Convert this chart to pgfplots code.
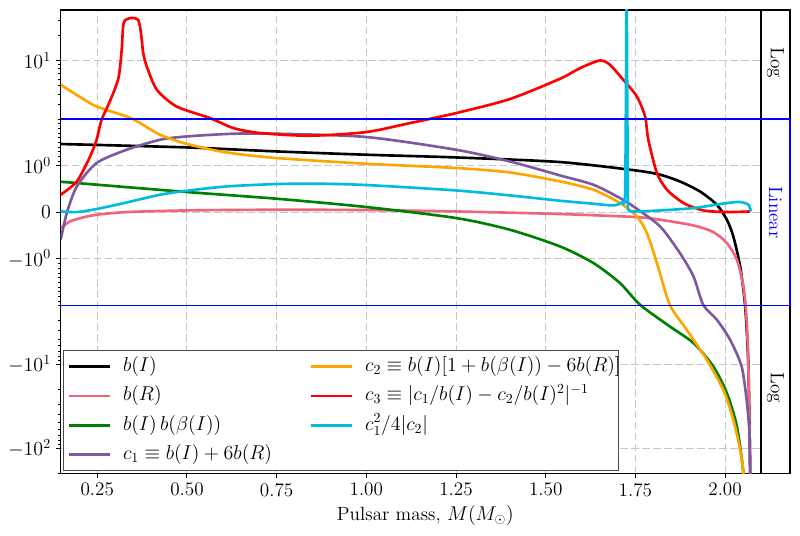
\documentclass[border=0pt]{standalone}
\usepackage{pgfplots}
\pgfplotsset{compat=1.18}
\definecolor{cBR}{RGB}{240,100,125}
\definecolor{cGreen}{RGB}{0,128,0}
\definecolor{cPurple}{RGB}{125,90,160}
\definecolor{cOrange}{RGB}{255,165,0}
\definecolor{cCyan}{RGB}{0,188,222}
\definecolor{cBlue}{RGB}{0,0,255}
\newcommand{\fs}{\fontsize{13.8}{16}\selectfont}
\begin{document}
\begin{tikzpicture}
\begin{axis}[
  scale only axis, width=525.1pt, height=333.6pt,
  xmin=0.148, xmax=2.181, ymin=-3.1111, ymax=2.4121,
  clip mode=individual,
  declare function={symlog(\v)=(abs(\v)<=2) ? 0.555556*\v : ((\v>0) ? 1 : -1)*(1.111111+ln(max(abs(\v),2)/2)/ln(10));},
  xtick={0.25,0.5,0.75,1.0,1.25,1.5,1.75,2.0},
  xticklabels={0.25,0.50,0.75,1.00,1.25,1.50,1.75,2.00},
  ytick={-2.8101,-1.8101,-0.5556,0,0.5556,1.8101},
  yticklabels={$-10^{2}$,$-10^{1}$,$-10^{0}$,$0$,$10^{0}$,$10^{1}$},
  minor ytick={0.6111,0.6667,0.7222,0.7778,0.8333,0.8889,0.9444,1.0,1.0556,1.1111,1.2872,1.4121,1.5090,1.5882,1.6552,1.7132,1.7643,2.1111,2.2872,
   -0.6111,-0.6667,-0.7222,-0.7778,-0.8333,-0.8889,-0.9444,-1.0,-1.0556,-1.1111,-1.2872,-1.4121,-1.5090,-1.5882,-1.6552,-1.7132,-1.7643,-2.1111,-2.2872,-2.4121,-2.5090,-2.5882,-2.6552,-2.7132,-2.7643,-3.1111},
  xtick pos=bottom, ytick pos=left,
  tick align=outside,
  major tick length=3.5pt, minor tick length=2pt,
  every tick/.style={black, line width=0.7pt},
  minor tick style={line width=0.5pt},
  axis line style={line width=0.8pt, black},
  grid=major,
  grid style={black!22, line width=0.7pt, dash pattern=on 5.5pt off 2.4pt},
  tick label style={font=\fs},
  label style={font=\fs},
  xlabel={Pulsar mass, $M(M_\odot)$},
  legend style={at={(0.003,0.005)}, anchor=south west, draw=black!70, line width=0.6pt,
    fill=white, inner xsep=3pt, inner ysep=1pt, column sep=0pt,
    font=\fs,
    nodes={inner sep=0pt, text height=14.05pt, text depth=7.05pt}},
  legend cell align=left,
  legend columns=2,
  legend image code/.code={\draw[#1] (0pt,0pt) -- (29.5pt,0pt);},
  every axis plot/.append style={line width=1.9pt, smooth, tension=0.45},
]
% b(I)
\addplot[black, forget plot] table[x index=0, y expr={symlog(\thisrowno{1})}] {
0.148 1.466
0.5 1.393
0.75 1.307
1.0 1.236
1.25 1.178
1.54 1.079
1.751 0.899
1.819 0.807
1.874 0.663
1.93 0.448
1.977 0.163
2.005 -0.159
2.023 -0.517
2.042 -1.161
2.056 -2.05
2.065 -10.6
2.070 -197
2.071 -400
};
% b(R)
\addplot[cBR, forget plot] table[x index=0, y expr={symlog(\thisrowno{1})}] {
0.148 -0.337
0.174 -0.195
0.210 -0.110
0.248 -0.052
0.332 0.006
0.5 0.041
0.75 0.056
1.0 0.049
1.25 0.019
1.54 -0.036
1.751 -0.101
1.819 -0.159
1.912 -0.281
1.967 -0.423
2.005 -0.659
2.033 -1.017
2.051 -1.588
2.060 -2.95
2.065 -10.6
2.070 -197
2.071 -400
};
% b(I) b(beta(I))
\addplot[cGreen, forget plot] table[x index=0, y expr={symlog(\thisrowno{1})}] {
0.148 0.657
0.5 0.436
0.75 0.292
1.0 0.114
1.25 -0.122
1.40 -0.373
1.54 -0.732
1.633 -1.088
1.707 -1.517
1.763 -1.983
1.846 -3.55
1.912 -5.60
1.967 -10.6
2.005 -22.1
2.033 -55.2
2.051 -197
2.053 -400
};
% c1
\addplot[cPurple, forget plot] table[x index=0, y expr={symlog(\thisrowno{1})}] {
0.148 -0.588
0.165 -0.015
0.193 0.556
0.248 1.058
0.332 1.343
0.425 1.558
0.5 1.629
0.629 1.687
0.75 1.687
1.0 1.616
1.25 1.343
1.40 1.092
1.54 0.792
1.633 0.592
1.707 0.307
1.751 0.092
1.819 -0.303
1.874 -0.873
1.912 -1.376
1.939 -1.983
1.977 -2.95
2.014 -5.11
2.046 -10.6
2.060 -26.4
2.068 -66
2.070 -197
2.071 -400
};
% c2
\addplot[cOrange, forget plot] table[x index=0, y expr={symlog(\thisrowno{1})}] {
0.148 5.14
0.202 3.67
0.248 2.83
0.332 2.15
0.369 1.916
0.425 1.665
0.5 1.466
0.611 1.285
0.75 1.165
1.0 1.043
1.25 0.951
1.40 0.856
1.54 0.663
1.633 0.485
1.707 0.200
1.754 -0.088
1.782 -0.444
1.810 -1.088
1.846 -1.983
1.893 -3.89
1.949 -8.84
1.995 -20.2
2.023 -45.8
2.042 -105
2.051 -197
2.053 -400
};
% c3
\addplot[red, forget plot] table[x index=0, y expr={symlog(\thisrowno{1})}] {
0.148 0.378
0.193 0.663
0.230 1.200
0.248 1.558
0.262 1.987
0.285 3.25
0.309 6.18
0.318 13.4
0.322 25.5
0.327 30.0
0.341 32.0
0.355 32.0
0.364 30.5
0.369 25.5
0.374 17.7
0.378 12.3
0.388 8.48
0.416 4.48
0.471 2.83
0.564 2.06
0.629 1.809
0.704 1.702
0.843 1.644
1.0 1.723
1.122 1.916
1.25 2.36
1.40 3.47
1.54 6.06
1.596 8.12
1.651 10.0
1.679 8.9
1.716 5.9
1.754 3.73
1.777 2.15
1.786 1.558
1.810 0.843
1.838 0.485
1.884 0.200
1.940 0.041
2.005 0.006
2.070 0.019
};
% c1^2/4|c2|
\addplot[cCyan, forget plot] table[x index=0, y expr={symlog(\thisrowno{1})}] {
0.148 0.019
0.193 0.006
0.248 0.071
0.332 0.212
0.425 0.378
0.5 0.464
0.611 0.556
0.75 0.607
0.871 0.614
1.0 0.586
1.25 0.470
1.40 0.363
1.54 0.249
1.633 0.185
1.689 0.148
1.712 0.212
1.721 0.341
1.7235 3
1.7248 40
1.7255 3000
1.7262 40
1.7275 3
1.729 0.3
1.730 0.056
1.744 0.019
1.819 0.041
1.912 0.092
2.005 0.200
2.042 0.221
2.065 0.163
2.072 0.019
};
% strip on the right
\fill[white] (axis cs:2.1,-3.1111) rectangle (axis cs:2.181,2.4121);
\draw[black, line width=0.8pt] (axis cs:2.1,2.4121) -- (axis cs:2.181,2.4121) -- (axis cs:2.181,-3.1111) -- (axis cs:2.1,-3.1111);
\draw[black, line width=0.8pt] (axis cs:2.1,-3.1111) -- (axis cs:2.1,2.4121);
\draw[draw=cBlue, line width=1.3pt] (axis cs:0.148,1.11111) -- (axis cs:2.181,1.11111);
\draw[draw=cBlue, line width=1.3pt] (axis cs:0.148,-1.11111) -- (axis cs:2.181,-1.11111);
\draw[draw=cBlue, line width=1.3pt] (axis cs:2.181,1.11111) -- (axis cs:2.181,-1.11111);
\node[rotate=-90, font=\fs] at (axis cs:2.1405,1.78) {Log};
\node[rotate=-90, text=cBlue, font=\fs] at (axis cs:2.1405,0) {Linear};
\node[rotate=-90, font=\fs] at (axis cs:2.1405,-2.09) {Log};
% legend (row-wise order)
\addlegendimage{black, line width=1.9pt}
\addlegendentry{\makebox[142.9pt][l]{\hspace{8.6pt}$b(I)$}}
\addlegendimage{cOrange, line width=1.9pt}
\addlegendentry{\makebox[188pt][l]{\hspace{8.6pt}$c_2\equiv b(I)[1+b(\beta(I))-6b(R)]$}}
\addlegendimage{cBR, line width=1.9pt}
\addlegendentry{\makebox[142.9pt][l]{\hspace{8.6pt}$b(R)$}}
\addlegendimage{red, line width=1.9pt}
\addlegendentry{\makebox[188pt][l]{\hspace{8.6pt}$c_3\equiv |c_1/b(I)-c_2/b(I)^2|^{-1}$}}
\addlegendimage{cGreen, line width=1.9pt}
\addlegendentry{\makebox[142.9pt][l]{\hspace{8.6pt}$b(I)\,b(\beta(I))$}}
\addlegendimage{cCyan, line width=1.9pt}
\addlegendentry{\makebox[188pt][l]{\hspace{8.6pt}$c_1^2/4|c_2|$}}
\addlegendimage{cPurple, line width=1.9pt}
\addlegendentry{\makebox[142.9pt][l]{\hspace{8.6pt}$c_1\equiv b(I)+6b(R)$}}
\end{axis}
\pgfresetboundingbox
\path[use as bounding box] ([xshift=-43.7pt,yshift=-45.1pt]current axis.south west) rectangle ([xshift=7.2pt,yshift=7.2pt]current axis.north east);
\end{tikzpicture}
\end{document}
